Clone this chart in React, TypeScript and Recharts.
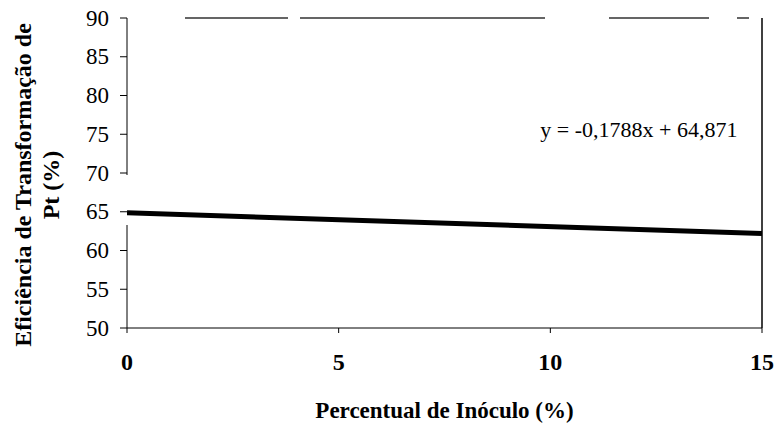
import React from 'react';
import { LineChart, Line, XAxis, YAxis, ReferenceLine, ReferenceDot, Label } from 'recharts';

// Data
const xValues = [0, 15];
const yValues = [64.871, 62.189];
const xTicks = [0, 5, 10, 15];
const yTicks = [50, 55, 60, 65, 70, 75, 80, 85, 90];
const equationText = 'y = -0,1788x + 64,871';
const equationAt = { x: 12.09, y: 75.6 };
const xTitle = 'Percentual de Inóculo (%)';
const yTitleLines = ['Eficiência de Transformação de', 'Pt (%)'];

const data = xValues.map((x, i) => ({ x, y: yValues[i] }));

const FONT = 'Liberation Serif';

const YTitle = (props: any) => {
  const vb = props.viewBox || { x: 0, y: 0, width: 0, height: 0 };
  const cy = vb.y + vb.height / 2 + 12;
  const xs = [23, 51];
  return (
    <g>
      {yTitleLines.map((t, i) => (
        <text
          key={i}
          x={xs[i]}
          y={cy}
          transform={`rotate(-90 ${xs[i]} ${cy})`}
          textAnchor="middle"
          dominantBaseline="central"
          style={{ fontFamily: FONT, fontWeight: 'bold', fontSize: 24 }}
          fill="#000"
        >
          {t}
        </text>
      ))}
    </g>
  );
};

const XTick = (props: any) => {
  const { x, y, payload } = props;
  return (
    <text
      x={x}
      y={y + 18}
      textAnchor="middle"
      dominantBaseline="hanging"
      style={{ fontFamily: FONT, fontWeight: 'bold', fontSize: 24 }}
      fill="#000"
    >
      {payload.value}
    </text>
  );
};

const YTick = (props: any) => {
  const { x, y, payload } = props;
  return (
    <text
      x={x - 9}
      y={y}
      textAnchor="end"
      dominantBaseline="central"
      style={{ fontFamily: FONT, fontSize: 23 }}
      fill="#000"
    >
      {payload.value}
    </text>
  );
};

export default function App() {
  return (
    <div style={{ position: 'absolute', left: 0, top: 0, background: '#fff' }}>
      <LineChart
        width={775}
        height={425}
        data={data}
        margin={{ top: 18, right: 13, bottom: 0, left: 0 }}
      >
        <XAxis
          dataKey="x"
          type="number"
          domain={[0, 15]}
          ticks={xTicks}
          height={97}
          stroke="#000"
          tickSize={5}
          tick={<XTick />}
          allowDataOverflow
        >
          <Label
            content={(p: any) => {
              const vb = p.viewBox;
              return (
                <text
                  x={vb.x + vb.width / 2}
                  y={vb.y + 82}
                  textAnchor="middle"
                  dominantBaseline="central"
                  style={{ fontFamily: FONT, fontWeight: 'bold', fontSize: 23 }}
                  fill="#000"
                >
                  {xTitle}
                </text>
              );
            }}
          />
        </XAxis>
        <YAxis
          type="number"
          domain={[50, 90]}
          ticks={yTicks}
          width={127}
          stroke="#000"
          tickSize={7}
          tick={<YTick />}
          axisLine={{ stroke: '#000', strokeDasharray: '157 50 110' }}
          allowDataOverflow
        >
          <Label content={<YTitle />} />
        </YAxis>
        <ReferenceLine
          y={90}
          stroke="#333"
          strokeWidth={1.5}
          strokeDasharray="0 58 103 12 245 64 100 28 12 40"
        />
        <ReferenceLine x={15} stroke="#000" strokeWidth={1.5} />
        <Line
          type="linear"
          dataKey="y"
          stroke="#000"
          strokeWidth={5}
          dot={false}
          isAnimationActive={false}
        />
        <ReferenceDot
          x={equationAt.x}
          y={equationAt.y}
          r={0}
          fill="none"
          stroke="none"
          label={(p: any) => {
            const vb = p.viewBox;
            const cx = vb.x + (vb.width || 0) / 2;
            const cy = vb.y + (vb.height || 0) / 2;
            return (
              <text
                x={cx}
                y={cy}
                textAnchor="middle"
                dominantBaseline="central"
                style={{ fontFamily: FONT, fontSize: 22 }}
                fill="#000"
              >
                {equationText}
              </text>
            );
          }}
        />
      </LineChart>
    </div>
  );
}
